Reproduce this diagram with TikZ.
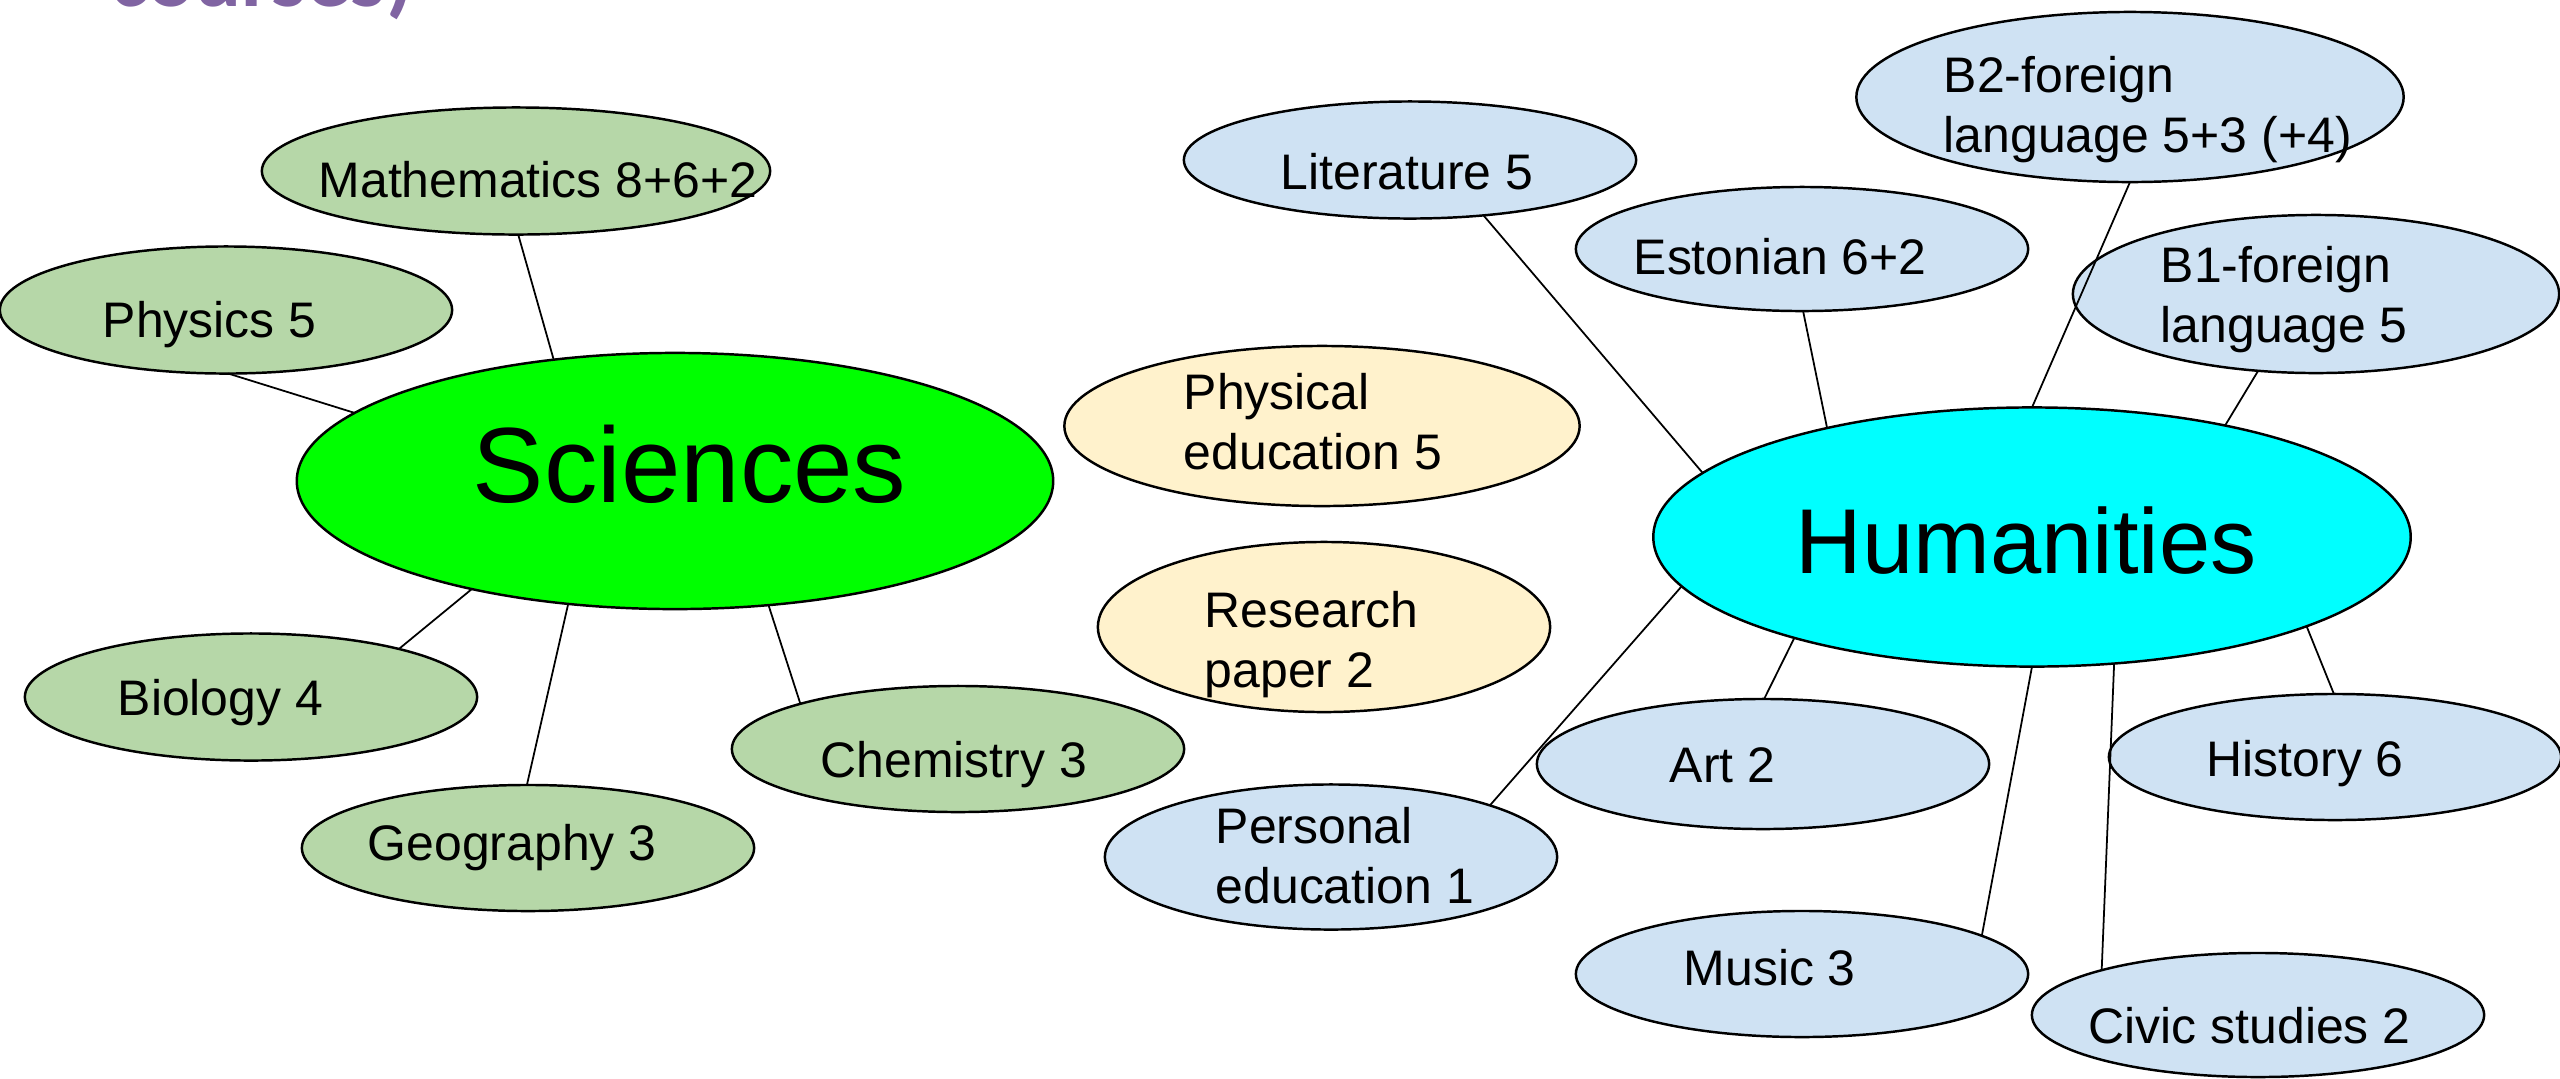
\documentclass[tikz,border=0pt]{standalone}
\usepackage{fontspec}
\setmainfont{Liberation Sans}
\newfontfamily\purplefont{Carlito}
\usetikzlibrary{shapes.geometric}
\definecolor{lgreen}{HTML}{B6D7A8}
\definecolor{sgreen}{HTML}{00FF00}
\definecolor{lyellow}{HTML}{FFF2CC}
\definecolor{lblue}{HTML}{CFE2F3}
\definecolor{hcyan}{HTML}{00FFFF}
\definecolor{purp}{HTML}{8064A2}
\newcommand{\mytwo}[2]{\vtop{\hbox{#1}\hbox{#2}}}
\begin{document}
\begin{tikzpicture}[x=0.01cm,y=-0.01cm,
  bub/.style={ellipse,draw=black,line width=0.7pt,inner sep=0pt,outer sep=0pt},
  sm/.style={font=\fontsize{14.2pt}{17.1pt}\selectfont,anchor=base west,inner sep=0pt},
  link/.style={draw=black,line width=0.5pt}]
\useasboundingbox (0,0) rectangle (2560,1078);
\fill[white] (0,0) rectangle (2560,1078);

% cut-off title text (only its lower edge shows, as in the reference)
\node[anchor=base west,inner sep=0pt,text=purp,font=\purplefont\bfseries\fontsize{25pt}{30pt}\selectfont] (title) at (110,6) {courses)};

% ellipses
\node[bub,fill=lgreen,minimum width=5.08cm,minimum height=1.27cm] (math) at (516,171) {};
\node[bub,fill=lgreen,minimum width=4.52cm,minimum height=1.27cm] (phys) at (226,310) {};
\node[bub,fill=sgreen,minimum width=7.56cm,minimum height=2.56cm] (sci) at (675,481) {};
\node[bub,fill=lgreen,minimum width=4.52cm,minimum height=1.27cm] (bio) at (251,697) {};
\node[bub,fill=lgreen,minimum width=4.52cm,minimum height=1.26cm] (geo) at (528,848) {};
\node[bub,fill=lgreen,minimum width=4.52cm,minimum height=1.26cm] (chem) at (958,749) {};

\node[bub,fill=lyellow,minimum width=5.15cm,minimum height=1.60cm] (pe) at (1322,426) {};
\node[bub,fill=lyellow,minimum width=4.52cm,minimum height=1.70cm] (rp) at (1324,627) {};

\node[bub,fill=lblue,minimum width=4.52cm,minimum height=1.17cm] (lit) at (1410,160) {};
\node[bub,fill=lblue,minimum width=4.52cm,minimum height=1.24cm] (est) at (1802,249) {};
\node[bub,fill=lblue,minimum width=5.47cm,minimum height=1.70cm] (btwo) at (2130,97) {};
\node[bub,fill=lblue,minimum width=4.86cm,minimum height=1.58cm] (bone) at (2316,294) {};
\node[bub,fill=hcyan,minimum width=7.57cm,minimum height=2.59cm] (hum) at (2032,537) {};
\node[bub,fill=lblue,minimum width=4.52cm,minimum height=1.30cm] (art) at (1763,764) {};
\node[bub,fill=lblue,minimum width=4.52cm,minimum height=1.26cm] (hist) at (2335,757) {};
\node[bub,fill=lblue,minimum width=4.52cm,minimum height=1.45cm] (pers) at (1331,857) {};
\node[bub,fill=lblue,minimum width=4.52cm,minimum height=1.26cm] (mus) at (1802,974) {};
\node[bub,fill=lblue,minimum width=4.52cm,minimum height=1.24cm] (civ) at (2258,1015) {};

% connectors
\draw[link] (math.-88) -- (sci.135);
\draw[link] (phys.-88) -- (sci.168);
\draw[link] (bio.18) -- (sci.-152.6);
\draw[link] (geo.91) -- (sci.-131);
\draw[link] (chem.164.4) -- (sci.-53.5);

\draw[link] (lit.-37.2) -- (hum.169);
\draw[link] (est.-89) -- (hum.152.2);
\draw[link] (btwo.-90) -- (hum.90);
\draw[link] (bone.-127) -- (hum.30.6);
\draw[link] (pers.18.2) -- (hum.-172.6);
\draw[link] (art.89) -- (hum.-157.8);
\draw[link] (hist.91) -- (hum.-18.5);
\draw[link] (mus.12.3) -- (hum.-90);
\draw[link] (civ.164.8) -- (hum.-57);

% texts
\node[sm] (mathT) at (318,197) {Mathematics 8+6+2};
\node[sm] (physT) at (102,337) {Physics 5};
\node[anchor=base west,inner sep=0pt,font=\fontsize{30.4pt}{36pt}\selectfont] (sciT) at (472,502) {Sciences};
\node[sm] (bioT) at (117,715) {Biology 4};
\node[sm] (geoT) at (367,860) {Geography 3};
\node[sm] (chemT) at (820,777) {Chemistry 3};
\node[sm] (peT) at (1183,409) {\mytwo{Physical}{education 5}};
\node[sm] (rpT) at (1204,627) {\mytwo{Research}{paper 2}};
\node[sm] (litT) at (1280,189) {Literature 5};
\node[sm] (estT) at (1633,274) {Estonian 6+2};
\node[sm] (btwoT) at (1943,92) {\mytwo{B2-foreign}{language 5+3 (+4)}};
\node[sm] (boneT) at (2160,282) {\mytwo{B1-foreign}{language 5}};
\node[anchor=base west,inner sep=0pt,font=\fontsize{26.2pt}{31pt}\selectfont] (humT) at (1795,573) {Humanities};
\node[sm] (artT) at (1669,782) {Art 2};
\node[sm] (histT) at (2206,776) {History 6};
\node[sm] (persT) at (1215,843) {\mytwo{Personal}{education 1}};
\node[sm] (musT) at (1683,985) {Music 3};
\node[sm] (civT) at (2088,1043) {Civic studies 2};
\end{tikzpicture}
\end{document}
